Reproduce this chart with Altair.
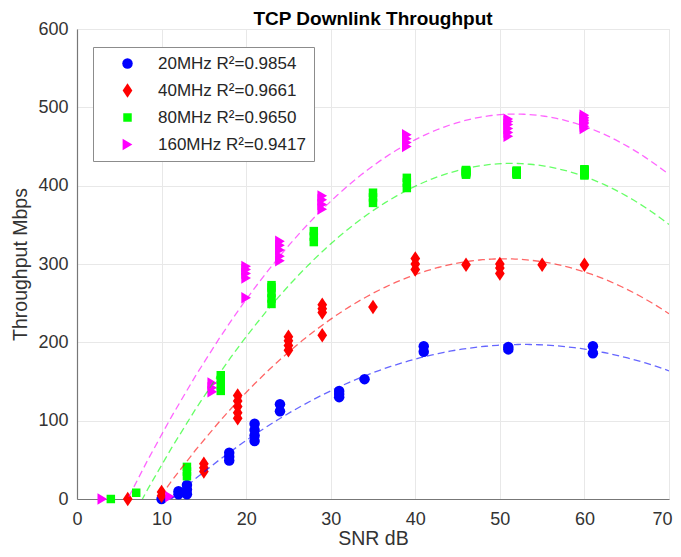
import altair as alt
import pandas as pd

chart_title = "TCP Downlink Throughput"
series_names = ["20MHz R²=0.9854", "40MHz R²=0.9661", "80MHz R²=0.9650", "160MHz R²=0.9417"]
series_colors = ["#0000ff", "#ff0000", "#00ff00", "#ff00ff"]

snr_20 = [10, 12, 12, 13, 13, 13, 18, 18, 18, 21, 21, 21, 21, 24, 24, 31, 31, 31, 34, 41, 41, 51, 51, 61, 61]
tp_20 = [0, 6, 10, 6, 12, 18, 49, 54, 59, 74, 81, 88, 96, 112, 121, 130, 134, 138, 153, 188, 195, 191, 194, 186, 195]

snr_40 = [6, 10, 10, 15, 15, 15, 19, 19, 19, 19, 19, 25, 25, 25, 25, 29, 29, 29, 29, 35, 40, 40, 40, 46, 50, 50, 50, 55, 60]
tp_40 = [0, 4, 9, 35, 40, 45, 103, 110, 118, 125, 132, 190, 196, 202, 207, 209, 238, 243, 248, 245, 293, 300, 307, 299, 288, 295, 300, 299, 299]

snr_80 = [4, 7, 13, 13, 13, 17, 17, 17, 17, 23, 23, 23, 23, 23, 28, 28, 28, 35, 35, 35, 39, 39, 39,
          46, 46, 46, 46, 46, 46, 46, 46, 46, 46,
          52, 52, 52, 52, 52, 52, 52, 52, 52, 52,
          60, 60, 60, 60, 60, 60, 60, 60, 60, 60, 60, 60]
tp_80 = [0, 8, 29, 35, 41, 138, 145, 152, 158, 249, 256, 263, 270, 273, 328, 335, 342, 378, 385, 391, 397, 404, 410,
         414, 415, 416, 417, 417, 418, 418, 419, 419, 420,
         414, 415, 415, 416, 417, 417, 418, 418, 419, 419,
         413, 414, 415, 416, 417, 417, 418, 418, 419, 420, 420, 421]

snr_160 = [3, 11, 16, 16, 16, 20, 20, 20, 20, 20, 24, 24, 24, 24, 24, 29, 29, 29, 29, 39, 39, 39, 39,
           51, 51, 51, 51, 51, 51, 60, 60, 60, 60, 60, 60, 60, 60]
tp_160 = [0, 3, 137, 142, 148, 257, 282, 288, 293, 297, 304, 310, 318, 324, 329, 370, 376, 382, 387, 450, 455, 460, 465,
          463, 468, 473, 478, 482, 485, 473, 476, 479, 481, 483, 485, 487, 490]

rows = []
for name, xs, ys in zip(series_names, [snr_20, snr_40, snr_80, snr_160], [tp_20, tp_40, tp_80, tp_160]):
    for x, y in zip(xs, ys):
        rows.append({"snr": x, "tp": y, "series": name})
df = pd.DataFrame(rows)

diamond = "M0,-1L0.67,0L0,1L-0.67,0Z"
tri_right = "M-0.85,-1L0.85,0L-0.85,1Z"

color_scale = alt.Scale(domain=series_names, range=series_colors)
shape_scale = alt.Scale(domain=series_names, range=["circle", diamond, "square", tri_right])
size_scale = alt.Scale(type="ordinal", domain=series_names, range=[110, 210, 72, 130])

x_enc = alt.X("snr:Q", scale=alt.Scale(domain=[0, 70], nice=False),
              axis=alt.Axis(title="SNR dB", values=list(range(0, 71, 10)), format="d", labelFlush=False,
                            labelOffset=alt.ExprRef("datum.value >= 70 ? -7 : 0")))
y_enc = alt.Y("tp:Q", scale=alt.Scale(domain=[0, 600], nice=False),
              axis=alt.Axis(title="Throughput Mbps", values=list(range(0, 601, 100)), format="d", labelFlush=False))

points = alt.Chart(df).mark_point(filled=True, opacity=1, strokeWidth=0).encode(
    x=x_enc,
    y=y_enc,
    color=alt.Color("series:N", scale=color_scale, title=None,
                    legend=alt.Legend(orient="none", legendX=16, legendY=18)),
    shape=alt.Shape("series:N", scale=shape_scale, title=None),
    size=alt.Size("series:N", scale=size_scale, title=None),
)

fits = alt.Chart(df).transform_regression(
    "snr", "tp", groupby=["series"], method="poly", order=2, extent=[0, 70]
).mark_line(clip=True, strokeDash=[7, 4], strokeWidth=1.3, opacity=0.6).encode(
    x=alt.X("snr:Q"),
    y=alt.Y("tp:Q"),
    color=alt.Color("series:N", scale=color_scale, legend=None),
)

title_text = alt.Chart(pd.DataFrame({"t": [chart_title]})).mark_text(
    font="Liberation Sans", fontSize=19, fontWeight="bold", color="#000000",
    align="center", baseline="alphabetic"
).encode(
    x=alt.value(296), y=alt.value(-4), text="t:N"
)

chart = alt.layer(points, fits, title_text).properties(
    width=592,
    height=470,
    autosize=alt.AutoSizeParams(type="none"),
    padding={"left": 69, "top": 21, "right": 4, "bottom": 50},
).configure_view(
    stroke="#dedede", strokeWidth=1
).configure_axis(
    labelFont="Liberation Sans", titleFont="Liberation Sans",
    labelFontSize=18, titleFontSize=19.5, labelColor="#333333", titleColor="#333333",
    titleFontWeight="normal", gridColor="#e8e8e8", gridWidth=1,
    domainColor="#777777", domainWidth=1.2, ticks=False, tickSize=0,
    labelPadding=9
).configure_axisY(
    titlePadding=7
).configure_axisX(
    titlePadding=1, labelPadding=11
).configure_legend(
    fillColor="#ffffff", strokeColor="#8c8c8c", padding=8,
    labelFont="Liberation Sans", labelFontSize=17, labelColor="#262626",
    labelLimit=400, rowPadding=9, symbolOffset=18, labelOffset=22,
    symbolStrokeWidth=0, cornerRadius=0
)

chart.save("out.html", embed_options={"renderer": "svg", "actions": False})
